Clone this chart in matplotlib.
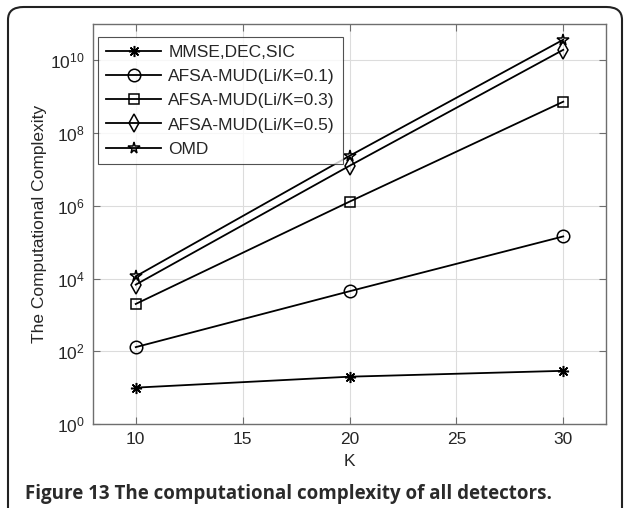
import matplotlib
matplotlib.use("Agg")
import matplotlib.pyplot as plt
from matplotlib.patches import FancyBboxPatch

plt.rcParams['font.family'] = ['Liberation Sans', 'DejaVu Sans']

K = [10, 20, 30]
mmse = [10, 20, 29]
afsa01 = [130, 4470, 1.44e5]
afsa03 = [2000, 1.3e6, 7.3e8]
afsa05 = [6800, 1.26e7, 1.95e10]
omd = [1.15e4, 2.36e7, 3.7e10]

series = [
    ("MMSE,DEC,SIC", mmse, dict(marker=(8, 2, 0), markersize=8)),
    ("AFSA-MUD(Li/K=0.1)", afsa01, dict(marker='o', markersize=9)),
    ("AFSA-MUD(Li/K=0.3)", afsa03, dict(marker='s', markersize=7)),
    ("AFSA-MUD(Li/K=0.5)", afsa05, dict(marker='d', markersize=9)),
    ("OMD", omd, dict(marker='*', markersize=8.5)),
]

fig = plt.figure(figsize=(6.25, 5.08), dpi=100)
ax = fig.add_axes([93/625, 1 - 424/508, (606-93)/625, (424-24)/508])

for label, ys, st in series:
    ax.plot(K, ys, color='black', linewidth=1.3, label=label,
            markerfacecolor='none', markeredgecolor='black', markeredgewidth=1.1, **st)

ax.set_yscale('log')
ax.set_xlim(8, 32)
ax.set_ylim(1, 1e11)
ax.set_xticks([10, 15, 20, 25, 30])
ax.set_yticks([1e0, 1e2, 1e4, 1e6, 1e8, 1e10])
ax.minorticks_off()
ax.grid(True, color='#dcdcdc', linewidth=0.8)
ax.set_axisbelow(True)
for s in ax.spines.values():
    s.set_color('#6e6e6e')
    s.set_linewidth(1.0)
ax.tick_params(direction='in', top=True, right=True, length=5, color='#6e6e6e',
               labelsize=12.5, labelcolor='#262626', pad=6)
ax.set_xlabel('K', fontsize=12.5, color='#262626', labelpad=5)
ax.set_ylabel('The Computational Complexity', fontsize=12.5, color='#262626', labelpad=2)

leg = ax.legend(loc='upper left', bbox_to_anchor=(5/513, 1 - 13/400), fontsize=12.5,
                frameon=True, fancybox=False, edgecolor='#262626', handlelength=3.2,
                borderpad=0.45, labelspacing=0.52, handletextpad=0.4, borderaxespad=0)
leg.get_frame().set_linewidth(0.8)
for t in leg.get_texts():
    t.set_color('#262626')

frame = FancyBboxPatch((8/625, -0.05), (622-8)/625, (1 - 7/508) + 0.05,
                       boxstyle="round,pad=0,rounding_size=0.025",
                       transform=fig.transFigure, facecolor='none', edgecolor='#222222',
                       linewidth=1.5, clip_on=False)
fig.patches.append(frame)

fig.text(25/625, 1 - 494/508, 'Figure 13 The computational complexity of all detectors.',
         fontsize=13.5, fontweight='bold', family=['Open Sans', 'DejaVu Sans'],
         color='#2a2a2a', va='center', ha='left')

fig.savefig('out.png', dpi=100)
